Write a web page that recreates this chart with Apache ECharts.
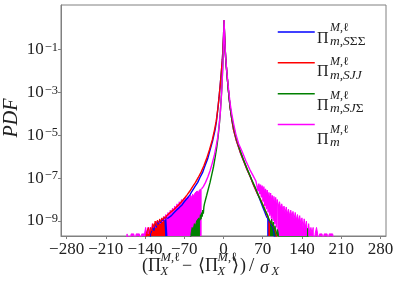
<!DOCTYPE html>
<html><head><meta charset="utf-8">
<script src="https://cdn.jsdelivr.net/npm/echarts@6/dist/echarts.min.js"></script>
<style>html,body{margin:0;padding:0;background:#fff}#c{width:399px;height:290px}</style>
</head><body><div id="c"></div>
<script>
// ---- data (x = (Π - <Π>)/σ, y = PDF) ----
const xTicks = [-280, -210, -140, -70, 0, 70, 140, 210, 280];
const yTickExponents = [-9, -7, -5, -3, -1];
const seriesNames = ['SΣΣ', 'SJJ', 'SJΣ', 'm'];
const seriesColors = ['#0000ff', '#ff0000', '#008000', '#ff00ff'];

// blue: Π_{m,SΣΣ}
const blueTailL = [[-132,0],[-130,2.5e-10],[-128,2.5e-10],[-126,5e-10],[-124,3.5e-10],[-122,7.5e-10],[-120,5e-10],[-118,9e-10],[-116,7e-10],[-114,1.1e-9],[-112,8e-10],[-110,1.25e-9],[-108,1e-9],[-106,1.4e-9],[-104,1.2e-9],[-102,1.5e-9],[-100,1.3e-9]];
const blueLine = [[-100,1.3e-9],[-97,1.6e-9],[-93,1.78e-9],[-88,2.5e-9],[-84,3.2e-9],[-79,4.2e-9],[-74,5.6e-9],[-70,7.9e-9],[-65,1.12e-8],[-60,1.66e-8],[-56,2.5e-8],[-51,4.0e-8],[-46,6.3e-8],[-42,1.07e-7],[-37,1.9e-7],[-33,3.8e-7],[-28,8.3e-7],[-24,2.0e-6],[-19,6.0e-6],[-15,1.78e-5],[-12.5,4.5e-5],[-10,1.78e-4],[-8,5.6e-4],[-6,2.0e-3],[-4,7.9e-3],[-2,3.5e-2],[-1,0.1],[0,0.4],[1,2.3],[2,0.4],[3,0.1],[4,0.035],[6,7.9e-3],[8,2.0e-3],[10,5.6e-4],[12,1.78e-4],[15,5.0e-5],[18,1.78e-5],[23,5.6e-6],[30,1.58e-6],[36,6.3e-7],[42,2.5e-7],[48,1.12e-7],[54,4.5e-8],[60,2.0e-8],[65,1.0e-8],[70,4.5e-9],[74,2.5e-9],[76,1.8e-9],[78,1.4e-9]];
const blueTailR = [[78,1.4e-9],[80,1.1e-9],[82,1.2e-9],[84,7.5e-10],[86,7e-10],[88,5e-10],[90,3e-10],[92,2.5e-10],[94,0]];

// red: Π_{m,SJJ}
const redTailL = [[-140,0],[-138,2.5e-10],[-136,2.5e-10],[-134,5e-10],[-132,2.5e-10],[-130,5e-10],[-128,3.5e-10],[-126,7.5e-10],[-124,5e-10],[-122,1e-9],[-120,6e-10],[-118,1.1e-9],[-116,8e-10],[-114,1.25e-9],[-112,9e-10],[-110,1.4e-9],[-108,1.1e-9],[-106,1.6e-9],[-104,1.3e-9]];
const redLine = [[-104,1.3e-9],[-102,1.7e-9],[-100,1.78e-9],[-95,2.5e-9],[-90,3.2e-9],[-85,4.2e-9],[-80,5.6e-9],[-75,7.9e-9],[-70,1.12e-8],[-65,1.66e-8],[-60,2.5e-8],[-55,4.0e-8],[-50,6.3e-8],[-45,1.07e-7],[-40,1.9e-7],[-35,3.8e-7],[-30,8.3e-7],[-25,2.1e-6],[-20,6.0e-6],[-16,1.78e-5],[-13,4.5e-5],[-10,1.78e-4],[-8,5.6e-4],[-6,2.0e-3],[-4,7.9e-3],[-2,3.5e-2],[-1,0.1],[0,0.4],[1,2.3],[2,0.4],[3,0.1],[4,0.035],[6,7.9e-3],[8,2.0e-3],[10,5.6e-4],[12,1.78e-4],[15,5.0e-5],[18,1.78e-5],[23,5.6e-6],[30,1.58e-6],[36,6.3e-7],[42,2.5e-7],[48,1.12e-7],[54,4.5e-8],[60,2.0e-8],[66,1.0e-8],[72,4.5e-9],[76,2.5e-9],[78,1.8e-9],[80,1.4e-9]];
const redTailR = [[80,1.4e-9],[82,1.1e-9],[84,1.25e-9],[86,7.5e-10],[88,9e-10],[90,5e-10],[92,5e-10],[94,2.5e-10],[96,0]];

// green: Π_{m,SJΣ}
const greenTailL = [[-60,0],[-58,2.5e-10],[-56,5e-10],[-54,4e-10],[-52,7.5e-10],[-50,6e-10],[-48,1e-9],[-46,9e-10],[-44,1.4e-9],[-42,1.1e-9]];
const greenLine = [[-42,1.1e-9],[-41,2.0e-9],[-40,1.2e-9],[-39,2.5e-9],[-38,1.6e-9],[-37,3.2e-9],[-36,2.2e-9],[-35,4.5e-9],[-34,6.3e-9],[-32,1.0e-8],[-30,1.58e-8],[-27,3.2e-8],[-24,6.3e-8],[-21,1.41e-7],[-18,3.2e-7],[-15,8.9e-7],[-12,2.8e-6],[-10,7.1e-6],[-8,2.2e-5],[-6,8.9e-5],[-4.5,3.5e-4],[-3,1.58e-3],[-2,6.3e-3],[-1,2.8e-2],[0,0.2],[1,2.2],[2,0.32],[3,0.1],[4,0.035],[6,7.9e-3],[8,2.0e-3],[10,5.6e-4],[12,2.0e-4],[15,6.3e-5],[18,2.5e-5],[23,7.1e-6],[29,2.2e-6],[35,7.9e-7],[42,2.8e-7],[50,8.9e-8],[57,3.5e-8],[63,1.41e-8],[69,6.3e-9],[74,3.2e-9],[79,1.78e-9],[81,1.2e-9],[83,1e-9]];
const greenTailR = [[83,1e-9],[84.5,7.5e-10],[86,1.25e-9],[87.5,6e-10],[89,9e-10],[90.5,4e-10],[92,6e-10],[93.5,5e-10],[95,2.5e-10],[96.5,4e-10],[98,2.5e-10],[100,0],[148,0],[150,4.5e-10],[152,0]];

// magenta: Π_m
const magentaTailL = [[-174,0],[-172,2.5e-10],[-169,2.5e-10],[-167,0],[-165,2.5e-10],[-160,2.5e-10],[-158,0],[-156,2.5e-10],[-150,2.5e-10],[-148,0],[-146,2.5e-10],[-141,2.5e-10],[-139,5e-10],[-137,2.5e-10],[-135,5e-10],[-133,2.5e-10],[-131,5e-10],[-129,3.5e-10],[-127,7.5e-10],[-125,5e-10],[-123,7.5e-10],[-121,5e-10],[-119,1e-9],[-117,7.5e-10],[-115,1e-9],[-113,7.5e-10],[-111,1.25e-9],[-109,9e-10],[-107,1.6e-9],[-105,1.1e-9],[-103,2.0e-9],[-101,1.4e-9],[-99,2.5e-9],[-97,1.8e-9],[-95,3.2e-9],[-93,2.2e-9],[-91,4.0e-9],[-89,2.8e-9],[-87,5.0e-9],[-85,3.5e-9],[-83,6.3e-9],[-81,4.5e-9],[-79,7.9e-9],[-77,5.6e-9],[-75,1.0e-8],[-73,7.1e-9],[-71,1.12e-8],[-69,8.9e-9],[-67,1.26e-8],[-65,1.0e-8],[-63,1.41e-8],[-61,1.12e-8],[-59,1.58e-8],[-57,1.26e-8],[-55,1.78e-8],[-53,1.41e-8],[-51,2.0e-8],[-49,1.78e-8],[-47,2.5e-8],[-45,2.0e-8],[-43,2.8e-8],[-41,2.5e-8],[-39,3.2e-8]];
const magentaLine = [[-39,3.2e-8],[-36,4.0e-8],[-32,6.3e-8],[-28,1.12e-7],[-24,2.2e-7],[-20,5.0e-7],[-16,1.26e-6],[-13,3.2e-6],[-10,8.9e-6],[-8,2.5e-5],[-6,8.9e-5],[-4.5,3.2e-4],[-3,1.41e-3],[-2,5.6e-3],[-1,2.5e-2],[0,0.178],[1,2.35],[2,0.355],[3,0.112],[4,0.04],[6,8.9e-3],[8,2.5e-3],[10,7.9e-4],[12,2.8e-4],[15,8.9e-5],[18,3.5e-5],[22,1.12e-5],[27,4.0e-6],[33,1.78e-6],[40,6.3e-7],[47,2.5e-7],[53,1.26e-7],[58,7.1e-8],[60,6.3e-8],[61.5,2.5e-8],[63,5.6e-8],[64.5,1.78e-8],[66,5.0e-8],[67.5,1.26e-8],[69,4.5e-8],[70.5,7.9e-9],[72,4.0e-8],[73.5,5.0e-9],[75,3.2e-8],[76.5,3.5e-9],[78,2.8e-8],[79.5,2.5e-9],[81,2.2e-8],[82.5,1.78e-9],[84,2.0e-8],[85.5,1.26e-9],[87,1.58e-8],[88.5,1e-9],[90,1.41e-8],[91.5,7.1e-10],[93,1.26e-8],[94.5,5e-10],[96,1.0e-8]];
const magentaTailR = [[96,1.0e-8],[98,5.0e-9],[100,7.9e-9],[102,4.0e-9],[104,6.3e-9],[106,3.2e-9],[108,5.0e-9],[110,2.5e-9],[112,4.5e-9],[114,2.2e-9],[116,3.5e-9],[118,1.78e-9],[120,3.2e-9],[122,1.6e-9],[124,2.8e-9],[126,1.26e-9],[128,2.5e-9],[130,1.12e-9],[132,2.0e-9],[134,1e-9],[136,1.78e-9],[138,7.5e-10],[140,1.4e-9],[142,5e-10],[144,1.26e-9],[146,5e-10],[148,1e-9],[150,2.5e-10],[152,7.5e-10],[154,2.5e-10],[156,5e-10],[158,2.5e-10],[160,5e-10],[162,0],[163.5,2.5e-10],[166,5e-10],[168,2.5e-10],[170,0],[171.5,2.5e-10],[176,2.5e-10],[178,0],[179.5,2.5e-10],[185,2.5e-10],[187,0],[188.5,2.5e-10],[195,2.5e-10],[197,0]];

const legendSubs = ['{i|m},{i|S}ΣΣ', '{i|m},{i|SJJ}', '{i|m},{i|SJ}Σ', '{i|m}'];
const legendSup = '{i|M},ℓ';

// ---- rendering ----
const FLOOR_EXP = -13; // empty bins (PDF = 0) fall below the axis
const serif = '"Liberation Serif", "DejaVu Serif", serif';
const txt = '#222';
const frame = '#808080';
function toLog(d) { return d.map(([x, p]) => [x, p > 0 ? Math.log10(p) : FLOOR_EXP]); }

function T(text, x, y, size, italic, richSize) {
  const st = {text: text, fontSize: size, fontFamily: serif, fontStyle: italic ? 'italic' : 'normal',
    fill: txt, align: 'left', textAlign: 'left', verticalAlign: 'middle', textVerticalAlign: 'middle',
    rich: {i: {fontSize: richSize || size, fontFamily: serif, fontStyle: 'italic', fill: txt, color: txt}}};
  return {type: 'text', x: x, y: y, silent: true, z: 100, style: st};
}

const graphics = [];
const legendY = [33.3, 67, 100.7, 134.4];
legendY.forEach((ly, i) => {
  graphics.push(T('Π', 317, ly + 5, 16, false));
  graphics.push(T(legendSup, 330, ly - 5, 12, false, 12));
  graphics.push(T(legendSubs[i], 330, ly + 8, 13.5, false, 13.5));
});
graphics.push({type: 'text', x: 12, y: 118, rotation: Math.PI / 2, silent: true,
  style: {text: 'PDF', fontSize: 20, fontFamily: serif, fontStyle: 'italic', fill: txt,
    align: 'center', textAlign: 'center', verticalAlign: 'middle', textVerticalAlign: 'middle'}});
graphics.push(T('(', 142, 266, 18, false));
graphics.push(T('Π', 148, 266.5, 18, false));
graphics.push(T(legendSup, 160.5, 258, 12.5, false, 12.5));
graphics.push(T('X', 160.5, 272, 12.5, true));
graphics.push(T('−', 182, 266, 18, false));
graphics.push(T('⟨', 198, 266, 18, false));
graphics.push(T('Π', 205, 266.5, 18, false));
graphics.push(T(legendSup, 217.5, 258, 12.5, false, 12.5));
graphics.push(T('X', 217.5, 272, 12.5, true));
graphics.push(T('⟩', 232, 266, 18, false));
graphics.push(T(')', 240, 266, 18, false));
graphics.push(T('/', 249, 266, 19, false));
graphics.push(T('σ', 260, 268, 18, true));
graphics.push(T('X', 271.5, 272, 12.5, true));

function lineSeries(name, data, color) {
  return {type: 'line', name: name, data: toLog(data), symbol: 'none', showSymbol: false, clip: true,
    lineStyle: {color: color, width: 1.4}, itemStyle: {color: color}};
}
function tailSeries(name, data, color) {
  return {type: 'line', name: name, data: toLog(data), symbol: 'none', showSymbol: false, clip: true,
    lineStyle: {color: color, width: 1}, itemStyle: {color: color},
    areaStyle: {color: color, opacity: 1, origin: 'start'}};
}
const [cB, cR, cG, cM] = seriesColors;
const series = [
  tailSeries('m tail L', magentaTailL, cM), tailSeries('m tail R', magentaTailR, cM),
  lineSeries(seriesNames[0], blueLine, cB), tailSeries('b tail L', blueTailL, cB), tailSeries('b tail R', blueTailR, cB),
  lineSeries(seriesNames[1], redLine, cR), tailSeries('r tail L', redTailL, cR), tailSeries('r tail R', redTailR, cR),
  lineSeries(seriesNames[2], greenLine, cG), tailSeries('g tail L', greenTailL, cG), tailSeries('g tail R', greenTailR, cG),
  lineSeries(seriesNames[3], magentaLine, cM)
];

const chart = echarts.init(document.getElementById('c'), null, {renderer: 'canvas'});
chart.setOption({
  animation: false,
  grid: {left: 61, right: 13, top: 5, bottom: 54, show: true, borderColor: frame, borderWidth: 1},
  xAxis: {
    type: 'value', min: -290, max: 290,
    axisLine: {show: true, onZero: false, lineStyle: {color: frame, width: 1}},
    axisTick: {show: true, inside: false, length: 3, lineStyle: {color: frame}, customValues: xTicks},
    axisLabel: {customValues: xTicks, formatter: v => String(v).replace('-', '−'),
      fontFamily: serif, fontSize: 17, color: txt, margin: 5},
    splitLine: {show: false}
  },
  yAxis: {
    type: 'value', min: -9.7, max: 1.07,
    axisLine: {show: true, onZero: false, lineStyle: {color: frame, width: 1}},
    axisTick: {show: true, inside: false, length: 3, lineStyle: {color: frame}, customValues: yTickExponents},
    axisLabel: {customValues: yTickExponents, margin: 3,
      formatter: v => '{b|10}{s|−' + Math.abs(v) + '}',
      rich: {b: {fontSize: 17, fontFamily: serif, color: txt},
             s: {fontSize: 12.5, fontFamily: serif, color: txt, verticalAlign: 'top', padding: [0, 0, 0, 1]}}},
    splitLine: {show: false}
  },
  legend: {
    orient: 'vertical', left: 277, top: 26.3, padding: 0, itemWidth: 37, itemHeight: 14, itemGap: 19.7,
    selectedMode: false, formatter: () => '', textStyle: {fontSize: 10, lineHeight: 14},
    itemStyle: {opacity: 0}, lineStyle: {width: 1.5},
    data: seriesNames
  },
  series: series,
  graphic: graphics
});
</script>
</body></html>
